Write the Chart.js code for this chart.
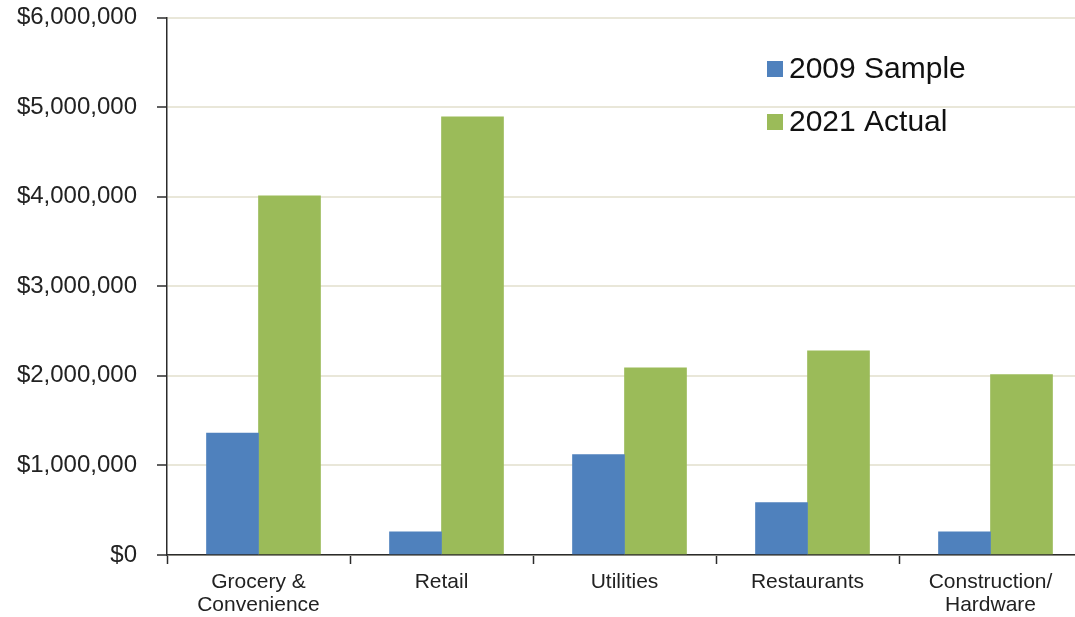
<!DOCTYPE html>
<html>
<head>
<meta charset="utf-8">
<script src="https://cdn.jsdelivr.net/npm/chart.js@4.4.0/dist/chart.umd.min.js"></script>
<style>
  html, body { margin: 0; padding: 0; background: #fff; overflow: hidden; }
  #wrap { width: 1090px; height: 617px; position: relative; }
</style>
</head>
<body>
<div id="wrap"><canvas id="myChart"></canvas></div>
<script>
// categories and the two series
const categories = [['Grocery &', 'Convenience'], 'Retail', 'Utilities', 'Restaurants', ['Construction/', 'Hardware']];
const seriesNames = ['2009 Sample', '2021 Actual'];
const sample2009 = [1360000, 260000, 1120000, 584000, 260000];
const actual2021 = [4010000, 4890000, 2090000, 2280000, 2015000];
const yTicks = [0, 1000000, 2000000, 3000000, 4000000, 5000000, 6000000];

const blue = '#4F81BD';
const green = '#9BBB59';
const axisColor = '#2b2b2b';
const gridColor = '#e9e7d9';

// legend drawn inside the plot, like the excel original
const insideLegend = {
  id: 'insideLegend',
  afterDraw(chart) {
    const ctx = chart.ctx;
    ctx.save();
    ctx.font = '30px "Liberation Sans", Arial, sans-serif';
    ctx.textBaseline = 'middle';
    chart.data.datasets.forEach((ds, i) => {
      const y = 69 + i * 53;
      ctx.fillStyle = ds.backgroundColor;
      ctx.fillRect(767, y - 8, 16, 16);
      ctx.fillStyle = '#111';
      ctx.fillText(ds.label, 789, y + 1);
    });
    ctx.restore();
  }
};

const config = {
  type: 'bar',
  data: {
    labels: categories,
    datasets: [
      { label: seriesNames[0], data: sample2009, backgroundColor: blue, barThickness: 52 },
      { label: seriesNames[1], data: actual2021, backgroundColor: green, barThickness: 62 }
    ]
  },
  options: {
    responsive: true,
    maintainAspectRatio: false,
    animation: false,
    layout: { padding: { top: 17.5, right: 8, left: 0, bottom: 0 } },
    plugins: {
      legend: { display: false },
      tooltip: { enabled: false }
    },
    scales: {
      x: {
        grid: {
          offset: true,
          drawOnChartArea: false,
          drawTicks: true,
          tickLength: 9,
          tickColor: axisColor,
          tickWidth: 1.5
        },
        border: { color: axisColor, width: 1.5 },
        ticks: {
          color: '#222',
          padding: 7,
          maxRotation: 0,
          autoSkip: false,
          font: { family: '"Liberation Sans", Arial, sans-serif', size: 21, lineHeight: 1.1 }
        },
        afterFit: (scale) => { scale.height = 62; scale.paddingLeft = 0; scale.paddingRight = 0; }
      },
      y: {
        min: 0,
        max: 6000000,
        afterBuildTicks: (scale) => { scale.ticks = yTicks.map(v => ({ value: v })); },
        grid: {
          color: gridColor,
          lineWidth: 2,
          tickLength: 10,
          tickColor: axisColor,
          tickWidth: 1.5
        },
        border: { color: axisColor, width: 1.5 },
        ticks: {
          color: '#222',
          padding: 20,
          font: { family: '"Liberation Sans", Arial, sans-serif', size: 24 },
          callback: (v) => '$' + Number(v).toLocaleString('en-US')
        },
        afterFit: (scale) => { scale.width = 167; scale.paddingTop = 0; scale.paddingBottom = 0; }
      }
    }
  },
  plugins: [insideLegend]
};

const ctx = document.getElementById('myChart').getContext('2d');
const myChart = new Chart(ctx, config);
</script>
</body>
</html>
